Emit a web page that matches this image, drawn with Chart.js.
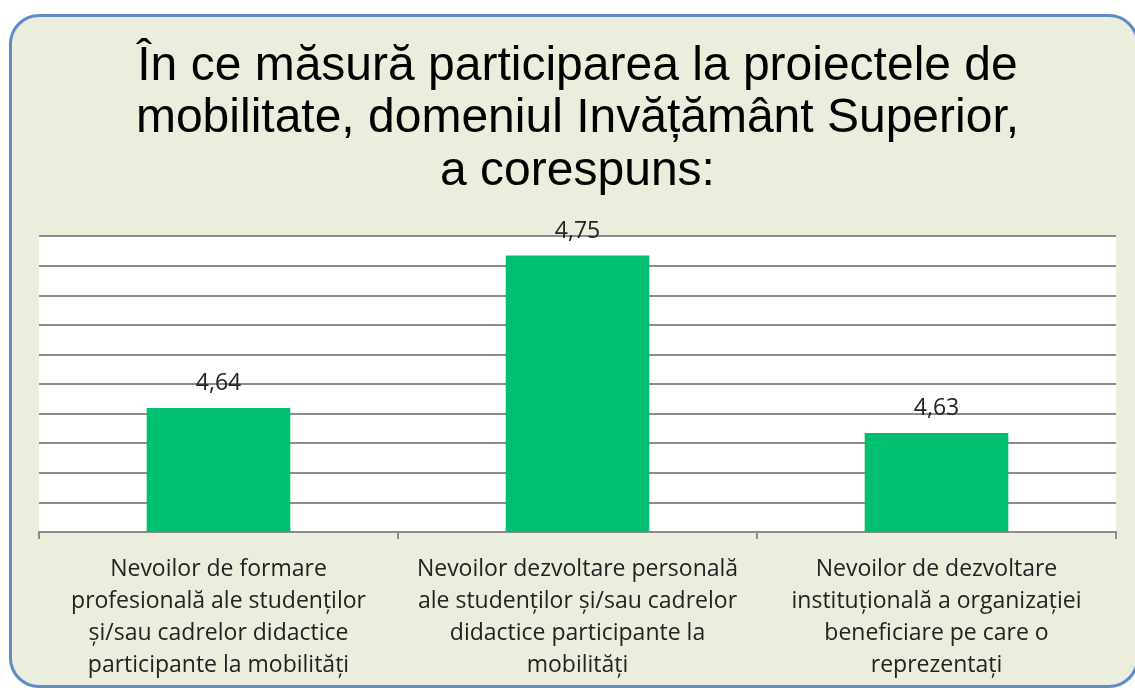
<!DOCTYPE html>
<html>
<head>
<meta charset="utf-8">
<script src="https://cdn.jsdelivr.net/npm/chart.js@4"></script>
<style>
  html, body { margin: 0; padding: 0; background: #fff; overflow: hidden; }
  #panel {
    position: absolute; left: 9px; top: 14px; width: 1124px; height: 668px;
    background: #ebeedd; border: 3px solid #5f8bc9; border-radius: 30px;
  }
  #wrap { position: absolute; left: 0; top: 0; width: 1135px; height: 695px; }
</style>
</head>
<body>
<div id="panel"></div>
<div id="wrap"><canvas id="barChart" width="1135" height="695"></canvas></div>
<script>
  const titleLines = [
    "În ce măsură participarea la proiectele de",
    "mobilitate, domeniul Invățământ Superior,",
    "a corespuns:"
  ];

  const categories = [
    ["Nevoilor de formare", "profesională ale studenților", "și/sau cadrelor didactice", "participante la mobilități"],
    ["Nevoilor dezvoltare personală", "ale studenților și/sau cadrelor", "didactice participante la", "mobilități"],
    ["Nevoilor de dezvoltare", "instituțională a organizației", "beneficiare pe care o", "reprezentați"]
  ];

  const scores = [4.644, 4.747, 4.627];

  const axisMin = 4.56;
  const axisMax = 4.76;
  const axisStep = 0.02;

  // white plot background
  const plotBg = {
    id: "plotBg",
    beforeDraw(chart) {
      const { ctx, chartArea: a } = chart;
      ctx.save();
      ctx.fillStyle = "#ffffff";
      ctx.fillRect(a.left, a.top, a.right - a.left, a.bottom - a.top);
      ctx.restore();
    }
  };

  // value labels above bars
  const valueLabels = {
    id: "valueLabels",
    afterDatasetsDraw(chart) {
      const { ctx } = chart;
      const meta = chart.getDatasetMeta(0);
      ctx.save();
      ctx.font = "23px 'Open Sans', sans-serif";
      ctx.fillStyle = "#222";
      ctx.textAlign = "center";
      ctx.textBaseline = "bottom";
      meta.data.forEach((bar, i) => {
        const txt = scores[i].toFixed(2).replace(".", ",");
        ctx.fillText(txt, bar.x, bar.y - 13);
      });
      ctx.restore();
    }
  };

  new Chart(document.getElementById("barChart"), {
    type: "bar",
    data: {
      labels: categories,
      datasets: [{
        data: scores,
        backgroundColor: "#00bf6f",
        borderWidth: 0,
        barPercentage: 0.4,
        categoryPercentage: 1.0
      }]
    },
    options: {
      responsive: false,
      animation: false,
      layout: { padding: { left: 39, right: 19, top: 0, bottom: 0 } },
      plugins: {
        legend: { display: false },
        tooltip: { enabled: false },
        title: {
          display: true,
          text: titleLines,
          color: "#000",
          font: { family: "'Liberation Sans', Arial, sans-serif", size: 48, weight: "normal", lineHeight: 1.1 },
          padding: { top: 40, bottom: 38 }
        }
      },
      scales: {
        x: {
          grid: {
            drawOnChartArea: false,
            drawTicks: true,
            tickLength: 7,
            color: "#8c8c8c",
            lineWidth: 2
          },
          border: { display: true, color: "#8c8c8c", width: 2 },
          ticks: {
            color: "#222",
            padding: 14,
            maxRotation: 0,
            font: { family: "'Open Sans', sans-serif", size: 23, lineHeight: 1.39 }
          }
        },
        y: {
          min: axisMin,
          max: axisMax,
          grid: { color: "#8c8c8c", lineWidth: 2, drawTicks: false },
          border: { display: false },
          ticks: { display: false, stepSize: axisStep }
        }
      }
    },
    plugins: [plotBg, valueLabels]
  });
</script>
</body>
</html>
